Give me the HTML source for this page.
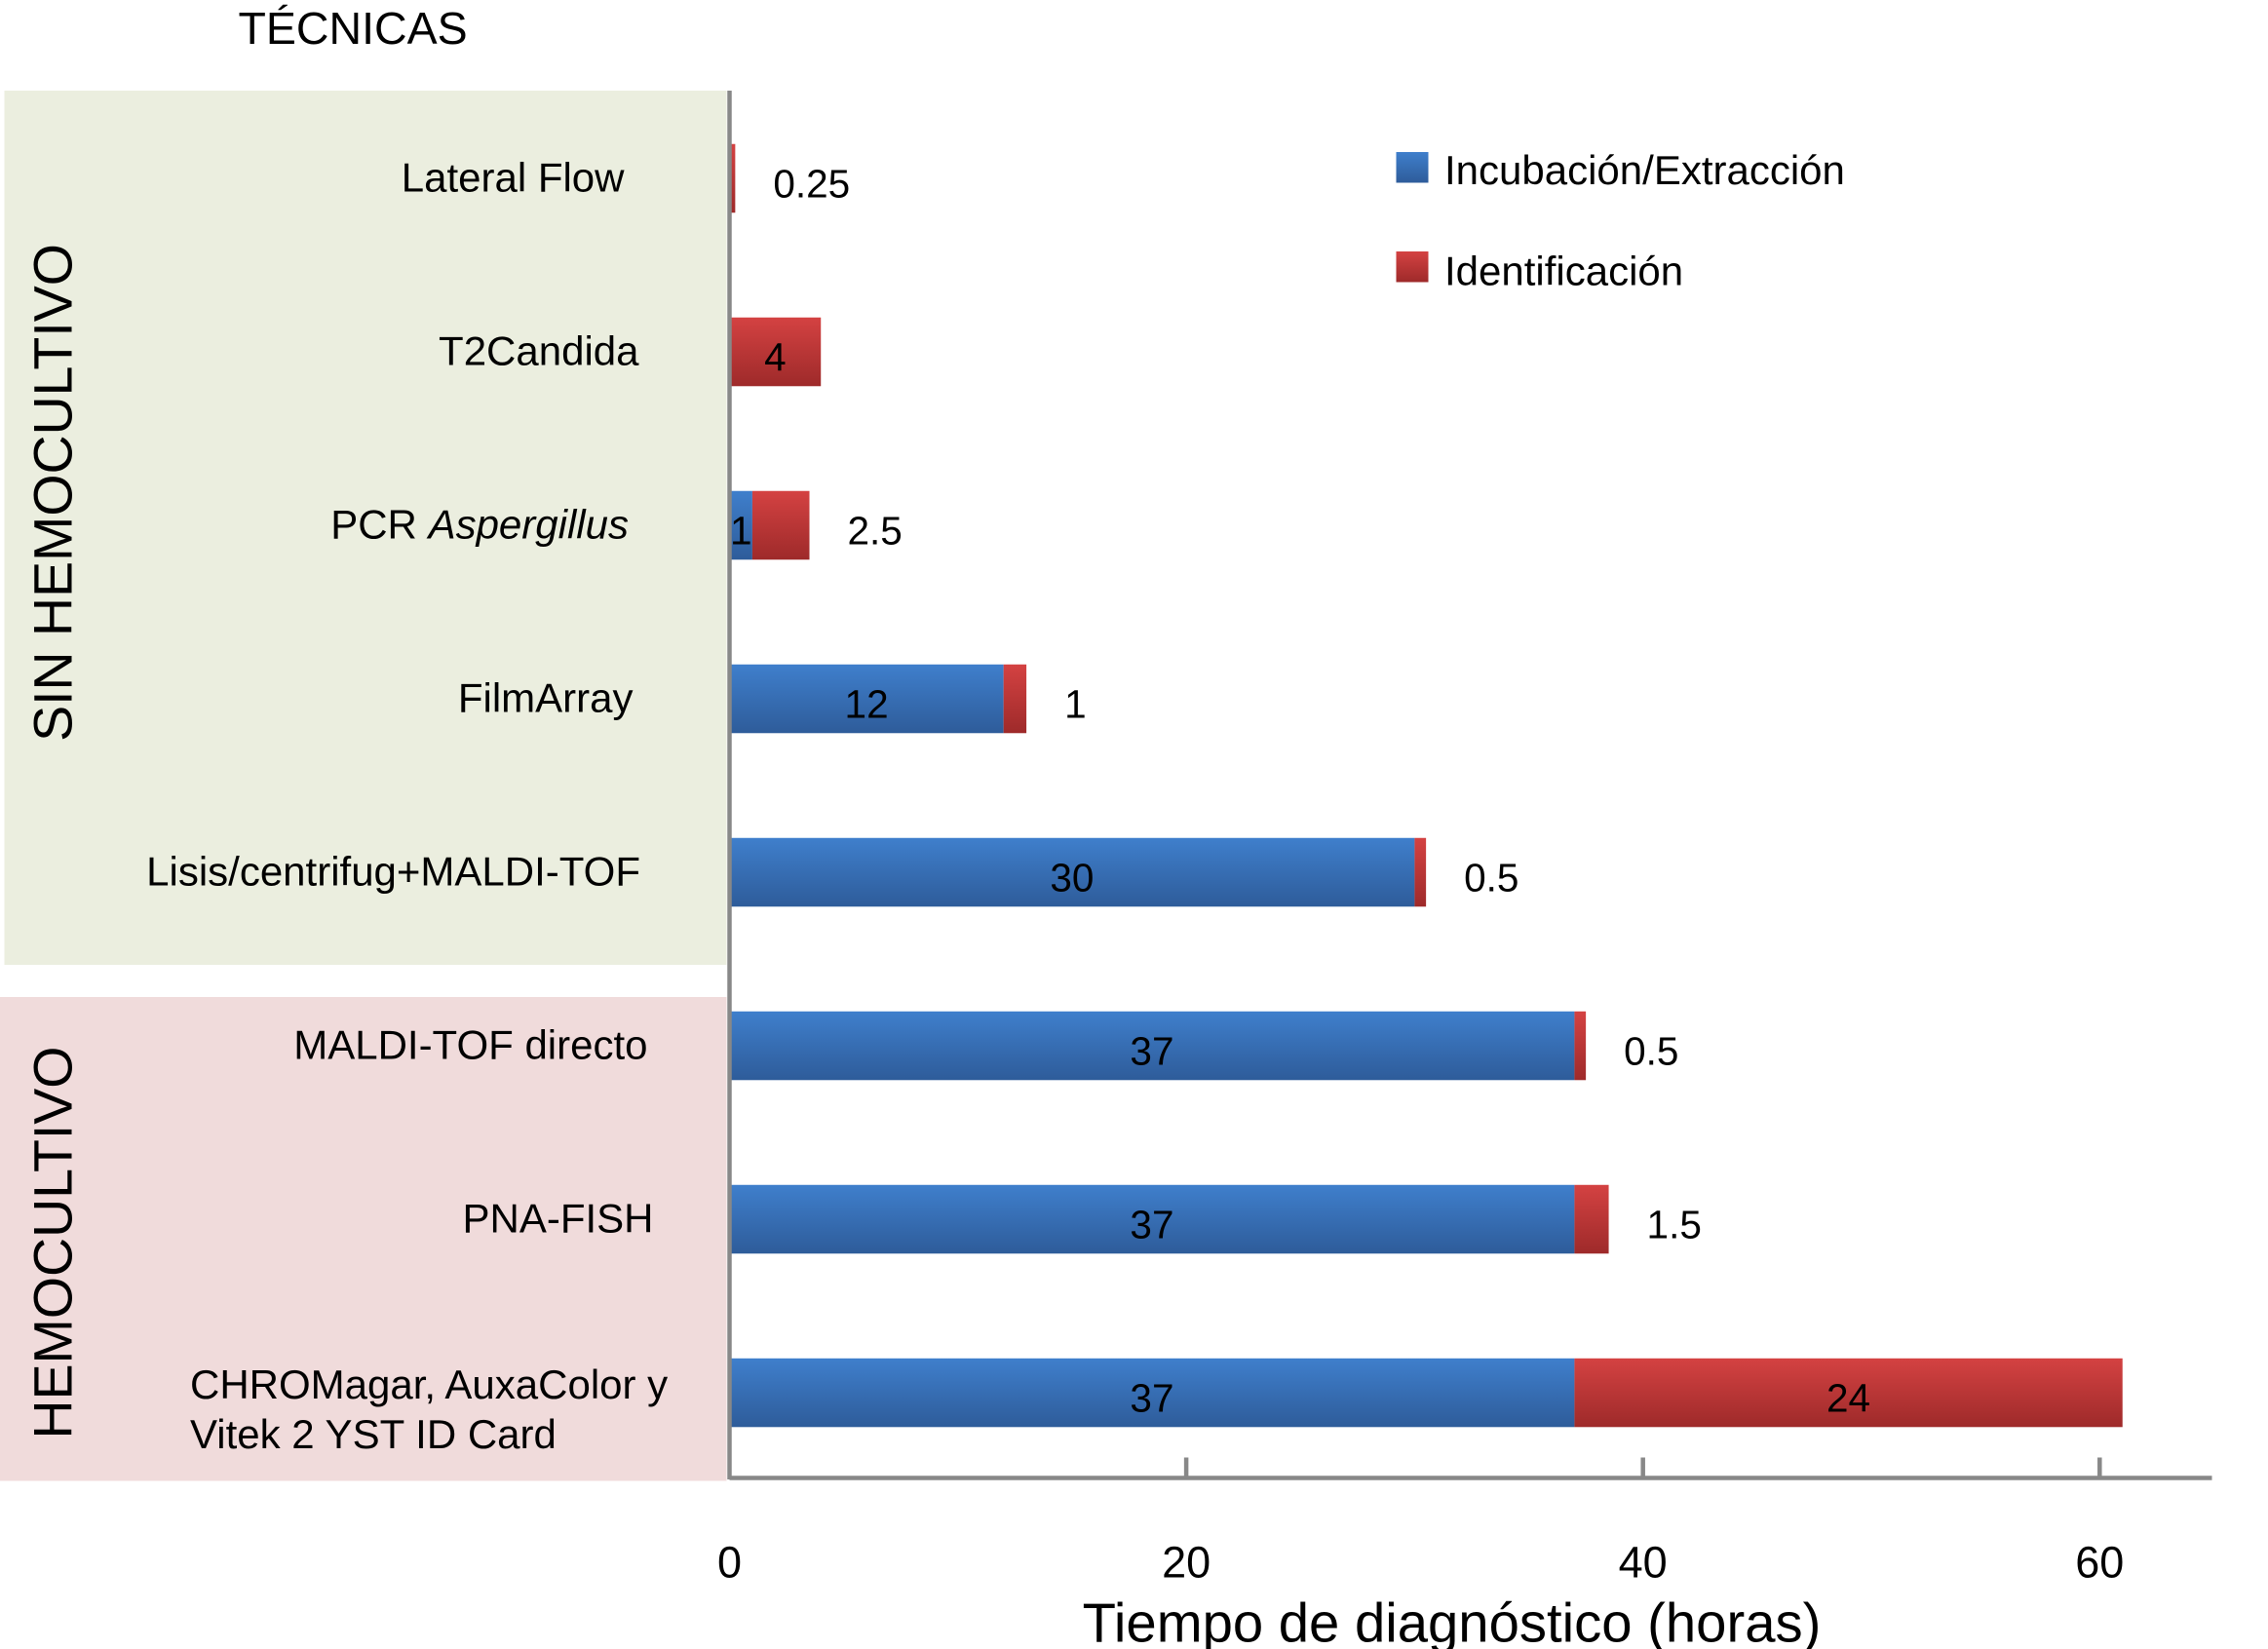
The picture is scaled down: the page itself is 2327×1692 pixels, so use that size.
<!DOCTYPE html>
<html><head><meta charset="utf-8"><style>
html,body{margin:0;padding:0;background:#fff}
svg{display:block}
text{font-family:"Liberation Sans",sans-serif;fill:#000}
</style></head><body>
<svg id="chart" width="2327" height="1692" viewBox="0 0 1551.33 1128" xmlns="http://www.w3.org/2000/svg">
<defs>
<linearGradient id="gb" x1="0" y1="0" x2="0" y2="1"><stop offset="0" stop-color="#3f7fcc"/><stop offset="1" stop-color="#2e5c9a"/></linearGradient>
<linearGradient id="gr" x1="0" y1="0" x2="0" y2="1"><stop offset="0" stop-color="#d44242"/><stop offset="1" stop-color="#9e2a2a"/></linearGradient>
</defs>
<rect x="3" y="62" width="494" height="598" fill="#ebeedf"/>
<rect x="0" y="682" width="497" height="331" fill="#f0dbdb"/>
<text x="163" y="30" font-size="31">TÉCNICAS</text>
<text transform="translate(49,337) rotate(-90)" text-anchor="middle" font-size="37">SIN HEMOCULTIVO</text>
<text transform="translate(49,850) rotate(-90)" text-anchor="middle" font-size="37">HEMOCULTIVO</text>
<g id="bars"></g>
<g id="cats"></g>
<g id="axes"></g>
<rect x="955" y="104" width="22" height="21" fill="url(#gb)"/>
<text x="988" y="126" font-size="28">Incubación/Extracción</text>
<rect x="955" y="172" width="22" height="21" fill="url(#gr)"/>
<text x="988" y="195" font-size="28">Identificación</text>
<text x="993" y="1123" text-anchor="middle" font-size="37.5">Tiempo de diagnóstico (horas)</text>
</svg>
<script>
const categories = ["Lateral Flow","T2Candida","PCR Aspergillus","FilmArray","Lisis/centrifug+MALDI-TOF","MALDI-TOF directo","PNA-FISH","CHROMagar, AuxaColor y Vitek 2 YST ID Card"];
const incubacion = [0,0,1,12,30,37,37,37];
const identificacion = [0.25,4,2.5,1,0.5,0.5,1.5,24];
const xTicks = [0,20,40,60];

const NS="http://www.w3.org/2000/svg";
const x0=499, pxPer=15.62;
function xs(v){return x0+v*pxPer;}
function yc(i){return 122+i*118.67;}
const bh=47;
const labelEnd=[427,437,430,433,438,443,447,0];
function mk(tag,attrs,parent,txt){const e=document.createElementNS(NS,tag);for(const k in attrs)e.setAttribute(k,attrs[k]);if(txt!==undefined)e.textContent=txt;parent.appendChild(e);return e;}
const bars=document.getElementById('bars'), cats=document.getElementById('cats'), axes=document.getElementById('axes');
categories.forEach((c,i)=>{
  const y=yc(i);
  const b=incubacion[i], r=identificacion[i];
  if(b>0){
    const rb=mk('rect',{x:xs(0),y:y-bh/2,width:xs(b)-xs(0),height:bh,fill:'url(#gb)'},bars);
    
    
    const tb=mk('text',{x:(xs(0)+xs(b))/2,y:y+13,'text-anchor':'middle','font-size':27},bars,String(b));
    
    
  }
  const rr=mk('rect',{x:xs(b),y:y-bh/2,width:Math.max(xs(b+r)-xs(b),2),height:bh,fill:'url(#gr)'},bars);
  
  
  const wide=(xs(b+r)-xs(b))>40;
  const tr=mk('text',wide?{x:(xs(b)+xs(b+r))/2,y:y+13,'text-anchor':'middle','font-size':27}:{x:xs(b+r)+26,y:y+13,'font-size':27},bars,String(r));
  
  
  let t;
  if(i===7){
    t=mk('text',{x:130,y:y+4,'font-size':28},cats);
    mk('tspan',{x:130,dy:0},t,'CHROMagar, AuxaColor y');
    mk('tspan',{x:130,dy:34},t,'Vitek 2 YST ID Card');
  } else if(i===2){
    t=mk('text',{x:labelEnd[i],y:y+9,'text-anchor':'end','font-size':28},cats);
    mk('tspan',{},t,'PCR ');
    mk('tspan',{'font-style':'italic'},t,'Aspergillus');
  } else {
    t=mk('text',{x:labelEnd[i],y:y+9,'text-anchor':'end','font-size':28},cats,c);
  }
  
  
});
const ya=mk('line',{x1:x0,y1:62,x2:x0,y2:1012,stroke:'#888',"stroke-width":3},axes);


const xa=mk('line',{x1:x0,y1:1011,x2:1513,y2:1011,stroke:'#888',"stroke-width":3},axes);


xTicks.forEach(v=>{
  if(v>0){
    const tk=mk('line',{x1:xs(v),y1:997,x2:xs(v),y2:1011,stroke:'#888',"stroke-width":3},axes);
    
    
  }
  const tl=mk('text',{x:xs(v),y:1079,'text-anchor':'middle','font-size':30},axes,String(v));
  
  
});
</script>
</body></html>
